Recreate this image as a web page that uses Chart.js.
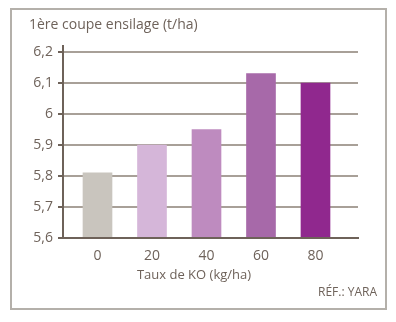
<!DOCTYPE html>
<html>
<head>
<meta charset="utf-8">
<script src="https://cdn.jsdelivr.net/npm/chart.js@4/dist/chart.umd.min.js"></script>
<style>
  html, body { margin: 0; padding: 0; background: #fff; }
  #wrap { position: relative; width: 396px; height: 322px; }
</style>
</head>
<body>
<div id="wrap"><canvas id="yield-chart" width="396" height="322"></canvas></div>
<script>
var koRates = [0, 20, 40, 60, 80];
var yields = [5.81, 5.90, 5.95, 6.13, 6.10];
var barColors = ["#c9c5be", "#d5b6d9", "#be8bbf", "#a769a9", "#90288e"];
var yTicks = [5.6, 5.7, 5.8, 5.9, 6.0, 6.1, 6.2];

var textColor = "#6e625a";
var fontFamily = "'Open Sans', sans-serif";

// frame around the figure, x axis title and source note
var framePlugin = {
  id: "frame",
  beforeDraw: function (chart) {
    var ctx = chart.ctx;
    ctx.save();
    ctx.strokeStyle = "#b4b0aa";
    ctx.lineWidth = 2;
    ctx.strokeRect(11, 9, 375, 300);
    ctx.restore();
  },
  afterDraw: function (chart) {
    var ctx = chart.ctx;
    ctx.save();
    ctx.fillStyle = textColor;
    ctx.textBaseline = "middle";
    ctx.font = "13px " + fontFamily;
    ctx.textAlign = "center";
    ctx.fillText("Taux de KO (kg/ha)", 194, 275);
    ctx.font = "12px " + fontFamily;
    ctx.textAlign = "right";
    ctx.fillText("RÉF.: YARA", 377, 293);
    ctx.restore();
  }
};

var ctx = document.getElementById("yield-chart").getContext("2d");
var chart = new Chart(ctx, {
  type: "bar",
  data: {
    datasets: [
      {
        data: koRates.map(function (k, i) { return { x: k, y: yields[i] }; }),
        backgroundColor: barColors,
        borderWidth: 0,
        barThickness: 29
      }
    ]
  },
  options: {
    responsive: false,
    animation: false,
    layout: { padding: { top: 14, left: 29, right: 38, bottom: 24 } },
    plugins: {
      legend: { display: false },
      tooltip: { enabled: false },
      title: {
        display: true,
        text: "1ère coupe ensilage (t/ha)",
        align: "start",
        color: textColor,
        font: { family: fontFamily, size: 14, weight: "normal" },
        padding: { top: 3, bottom: 12 }
      }
    },
    scales: {
      x: {
        type: "linear",
        min: -12.66,
        max: 95.6,
        offset: false,
        afterBuildTicks: function (scale) {
          scale.ticks = koRates.map(function (v) { return { value: v }; });
        },
        afterFit: function (scale) { scale.height = 60; },
        grid: { display: false, drawTicks: false },
        border: { display: true, color: "#6e6259", width: 2, z: 1 },
        ticks: {
          color: textColor,
          padding: 10,
          font: { family: fontFamily, size: 14 }
        }
      },
      y: {
        min: 5.6,
        max: 6.22,
        afterBuildTicks: function (scale) {
          scale.ticks = yTicks.map(function (v) { return { value: v }; });
        },
        afterFit: function (scale) { scale.width = 34; },
        grid: {
          color: "#a8a098",
          lineWidth: 2,
          tickColor: "#6e6259",
          tickLength: 5,
          tickWidth: 2
        },
        border: { display: true, color: "#6e6259", width: 2, z: 1 },
        ticks: {
          color: textColor,
          padding: 5,
          font: { family: fontFamily, size: 14 },
          callback: function (v) { return String(v).replace(".", ","); }
        }
      }
    }
  },
  plugins: [framePlugin]
});
</script>
</body>
</html>
